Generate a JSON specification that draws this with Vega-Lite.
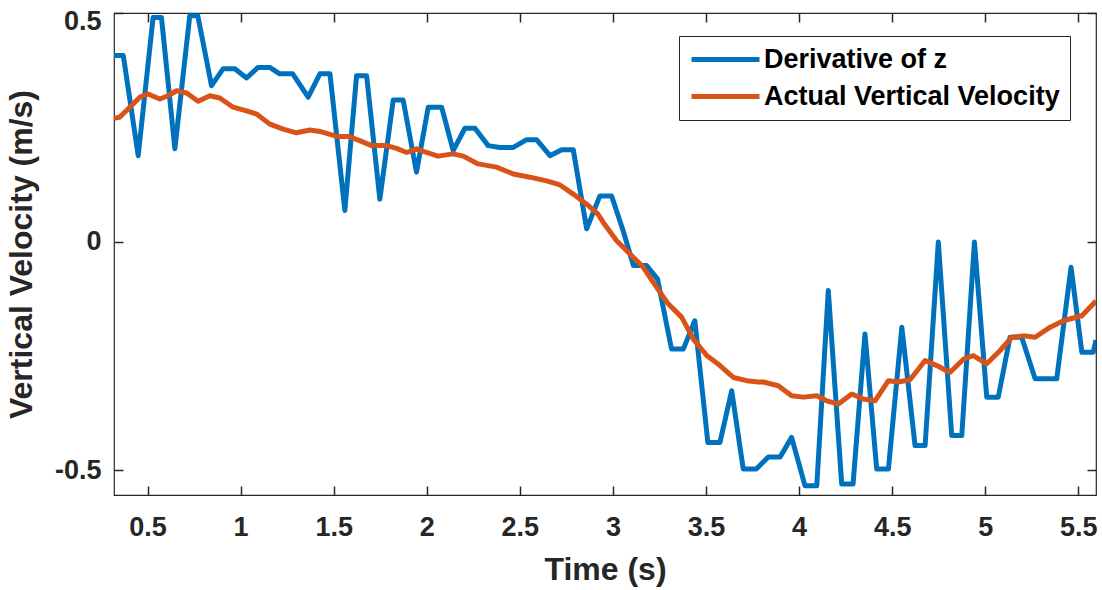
{
  "$schema": "https://vega.github.io/schema/vega-lite/v6.json",
  "width": 982,
  "height": 482,
  "autosize": {"type": "none"},
  "padding": {"left": 114, "top": 13, "right": 6, "bottom": 95},
  "background": "white",
  "config": {
    "font": "Liberation Sans",
    "view": {"stroke": "#262626", "strokeWidth": 1.2},
    "axis": {
      "grid": false,
      "domain": false,
      "ticks": true,
      "tickColor": "#262626",
      "tickWidth": 1.5,
      "labelColor": "#262626",
      "labelFont": "Liberation Sans",
      "labelFontWeight": "bold",
      "labelFontSize": 27,
      "titleColor": "#262626",
      "titleFont": "Liberation Sans",
      "titleFontWeight": "bold",
      "titleFontSize": 32
    },
    "legend": {
      "labelFont": "Liberation Sans",
      "labelFontWeight": "bold",
      "labelFontSize": 27,
      "labelColor": "#000000"
    }
  },
  "datasets": {
    "vel": [
      {"series": "Derivative of z", "t": 0.32, "v": 0.407},
      {"series": "Derivative of z", "t": 0.37, "v": 0.407},
      {"series": "Derivative of z", "t": 0.45, "v": 0.188},
      {"series": "Derivative of z", "t": 0.53, "v": 0.49},
      {"series": "Derivative of z", "t": 0.575, "v": 0.49},
      {"series": "Derivative of z", "t": 0.647, "v": 0.203},
      {"series": "Derivative of z", "t": 0.727, "v": 0.494},
      {"series": "Derivative of z", "t": 0.77, "v": 0.494},
      {"series": "Derivative of z", "t": 0.844, "v": 0.341},
      {"series": "Derivative of z", "t": 0.906, "v": 0.378},
      {"series": "Derivative of z", "t": 0.969, "v": 0.378},
      {"series": "Derivative of z", "t": 1.032, "v": 0.358},
      {"series": "Derivative of z", "t": 1.094, "v": 0.381},
      {"series": "Derivative of z", "t": 1.157, "v": 0.381},
      {"series": "Derivative of z", "t": 1.21, "v": 0.367},
      {"series": "Derivative of z", "t": 1.28, "v": 0.367},
      {"series": "Derivative of z", "t": 1.363, "v": 0.316},
      {"series": "Derivative of z", "t": 1.426, "v": 0.367},
      {"series": "Derivative of z", "t": 1.48, "v": 0.367},
      {"series": "Derivative of z", "t": 1.56, "v": 0.068},
      {"series": "Derivative of z", "t": 1.623, "v": 0.363},
      {"series": "Derivative of z", "t": 1.677, "v": 0.363},
      {"series": "Derivative of z", "t": 1.748, "v": 0.093},
      {"series": "Derivative of z", "t": 1.82, "v": 0.31},
      {"series": "Derivative of z", "t": 1.873, "v": 0.31},
      {"series": "Derivative of z", "t": 1.945, "v": 0.152},
      {"series": "Derivative of z", "t": 2.008, "v": 0.294},
      {"series": "Derivative of z", "t": 2.08, "v": 0.294},
      {"series": "Derivative of z", "t": 2.142, "v": 0.199},
      {"series": "Derivative of z", "t": 2.205, "v": 0.248},
      {"series": "Derivative of z", "t": 2.259, "v": 0.248},
      {"series": "Derivative of z", "t": 2.33, "v": 0.21},
      {"series": "Derivative of z", "t": 2.393, "v": 0.206},
      {"series": "Derivative of z", "t": 2.465, "v": 0.206},
      {"series": "Derivative of z", "t": 2.537, "v": 0.223},
      {"series": "Derivative of z", "t": 2.59, "v": 0.223},
      {"series": "Derivative of z", "t": 2.662, "v": 0.188},
      {"series": "Derivative of z", "t": 2.725, "v": 0.201},
      {"series": "Derivative of z", "t": 2.787, "v": 0.201},
      {"series": "Derivative of z", "t": 2.859, "v": 0.028},
      {"series": "Derivative of z", "t": 2.93, "v": 0.1},
      {"series": "Derivative of z", "t": 2.993, "v": 0.1},
      {"series": "Derivative of z", "t": 3.055, "v": 0.024},
      {"series": "Derivative of z", "t": 3.11, "v": -0.052},
      {"series": "Derivative of z", "t": 3.18, "v": -0.052},
      {"series": "Derivative of z", "t": 3.24, "v": -0.082},
      {"series": "Derivative of z", "t": 3.315, "v": -0.235},
      {"series": "Derivative of z", "t": 3.378, "v": -0.235},
      {"series": "Derivative of z", "t": 3.44, "v": -0.173},
      {"series": "Derivative of z", "t": 3.51, "v": -0.439},
      {"series": "Derivative of z", "t": 3.575, "v": -0.439},
      {"series": "Derivative of z", "t": 3.638, "v": -0.326},
      {"series": "Derivative of z", "t": 3.7, "v": -0.497},
      {"series": "Derivative of z", "t": 3.77, "v": -0.497},
      {"series": "Derivative of z", "t": 3.835, "v": -0.471},
      {"series": "Derivative of z", "t": 3.898, "v": -0.471},
      {"series": "Derivative of z", "t": 3.96, "v": -0.428},
      {"series": "Derivative of z", "t": 4.032, "v": -0.534},
      {"series": "Derivative of z", "t": 4.095, "v": -0.534},
      {"series": "Derivative of z", "t": 4.157, "v": -0.107},
      {"series": "Derivative of z", "t": 4.229, "v": -0.53},
      {"series": "Derivative of z", "t": 4.29, "v": -0.53},
      {"series": "Derivative of z", "t": 4.354, "v": -0.202},
      {"series": "Derivative of z", "t": 4.417, "v": -0.497},
      {"series": "Derivative of z", "t": 4.48, "v": -0.497},
      {"series": "Derivative of z", "t": 4.552, "v": -0.187},
      {"series": "Derivative of z", "t": 4.623, "v": -0.446},
      {"series": "Derivative of z", "t": 4.677, "v": -0.446},
      {"series": "Derivative of z", "t": 4.748, "v": -0.001},
      {"series": "Derivative of z", "t": 4.82, "v": -0.424},
      {"series": "Derivative of z", "t": 4.874, "v": -0.424},
      {"series": "Derivative of z", "t": 4.942, "v": -0.001},
      {"series": "Derivative of z", "t": 5.008, "v": -0.34},
      {"series": "Derivative of z", "t": 5.07, "v": -0.34},
      {"series": "Derivative of z", "t": 5.133, "v": -0.209},
      {"series": "Derivative of z", "t": 5.196, "v": -0.209},
      {"series": "Derivative of z", "t": 5.268, "v": -0.3},
      {"series": "Derivative of z", "t": 5.33, "v": -0.3},
      {"series": "Derivative of z", "t": 5.384, "v": -0.3},
      {"series": "Derivative of z", "t": 5.461, "v": -0.056},
      {"series": "Derivative of z", "t": 5.519, "v": -0.242},
      {"series": "Derivative of z", "t": 5.58, "v": -0.242},
      {"series": "Derivative of z", "t": 5.595, "v": -0.215},
      {"series": "Actual Vertical Velocity", "t": 0.32, "v": 0.27},
      {"series": "Actual Vertical Velocity", "t": 0.35, "v": 0.272},
      {"series": "Actual Vertical Velocity", "t": 0.405, "v": 0.294},
      {"series": "Actual Vertical Velocity", "t": 0.459, "v": 0.316},
      {"series": "Actual Vertical Velocity", "t": 0.503, "v": 0.323},
      {"series": "Actual Vertical Velocity", "t": 0.566, "v": 0.312},
      {"series": "Actual Vertical Velocity", "t": 0.61, "v": 0.319},
      {"series": "Actual Vertical Velocity", "t": 0.656, "v": 0.33},
      {"series": "Actual Vertical Velocity", "t": 0.71, "v": 0.325},
      {"series": "Actual Vertical Velocity", "t": 0.772, "v": 0.307},
      {"series": "Actual Vertical Velocity", "t": 0.835, "v": 0.319},
      {"series": "Actual Vertical Velocity", "t": 0.888, "v": 0.314},
      {"series": "Actual Vertical Velocity", "t": 0.96, "v": 0.294},
      {"series": "Actual Vertical Velocity", "t": 1.032, "v": 0.286},
      {"series": "Actual Vertical Velocity", "t": 1.086, "v": 0.279},
      {"series": "Actual Vertical Velocity", "t": 1.157, "v": 0.257},
      {"series": "Actual Vertical Velocity", "t": 1.229, "v": 0.246},
      {"series": "Actual Vertical Velocity", "t": 1.3, "v": 0.238},
      {"series": "Actual Vertical Velocity", "t": 1.372, "v": 0.244},
      {"series": "Actual Vertical Velocity", "t": 1.426, "v": 0.241},
      {"series": "Actual Vertical Velocity", "t": 1.516, "v": 0.23},
      {"series": "Actual Vertical Velocity", "t": 1.578, "v": 0.23},
      {"series": "Actual Vertical Velocity", "t": 1.64, "v": 0.221},
      {"series": "Actual Vertical Velocity", "t": 1.704, "v": 0.21},
      {"series": "Actual Vertical Velocity", "t": 1.784, "v": 0.21},
      {"series": "Actual Vertical Velocity", "t": 1.838, "v": 0.204},
      {"series": "Actual Vertical Velocity", "t": 1.892, "v": 0.195},
      {"series": "Actual Vertical Velocity", "t": 1.945, "v": 0.203},
      {"series": "Actual Vertical Velocity", "t": 1.999, "v": 0.195},
      {"series": "Actual Vertical Velocity", "t": 2.06, "v": 0.187},
      {"series": "Actual Vertical Velocity", "t": 2.142, "v": 0.192},
      {"series": "Actual Vertical Velocity", "t": 2.196, "v": 0.187},
      {"series": "Actual Vertical Velocity", "t": 2.276, "v": 0.17},
      {"series": "Actual Vertical Velocity", "t": 2.375, "v": 0.163},
      {"series": "Actual Vertical Velocity", "t": 2.465, "v": 0.148},
      {"series": "Actual Vertical Velocity", "t": 2.554, "v": 0.141},
      {"series": "Actual Vertical Velocity", "t": 2.644, "v": 0.133},
      {"series": "Actual Vertical Velocity", "t": 2.716, "v": 0.124},
      {"series": "Actual Vertical Velocity", "t": 2.787, "v": 0.104},
      {"series": "Actual Vertical Velocity", "t": 2.859, "v": 0.082},
      {"series": "Actual Vertical Velocity", "t": 2.92, "v": 0.06},
      {"series": "Actual Vertical Velocity", "t": 2.948, "v": 0.042},
      {"series": "Actual Vertical Velocity", "t": 3.02, "v": 0.002},
      {"series": "Actual Vertical Velocity", "t": 3.092, "v": -0.027},
      {"series": "Actual Vertical Velocity", "t": 3.163, "v": -0.056},
      {"series": "Actual Vertical Velocity", "t": 3.235, "v": -0.1},
      {"series": "Actual Vertical Velocity", "t": 3.297, "v": -0.136},
      {"series": "Actual Vertical Velocity", "t": 3.369, "v": -0.165},
      {"series": "Actual Vertical Velocity", "t": 3.432, "v": -0.213},
      {"series": "Actual Vertical Velocity", "t": 3.504, "v": -0.249},
      {"series": "Actual Vertical Velocity", "t": 3.575, "v": -0.271},
      {"series": "Actual Vertical Velocity", "t": 3.647, "v": -0.297},
      {"series": "Actual Vertical Velocity", "t": 3.719, "v": -0.304},
      {"series": "Actual Vertical Velocity", "t": 3.78, "v": -0.307},
      {"series": "Actual Vertical Velocity", "t": 3.808, "v": -0.307},
      {"series": "Actual Vertical Velocity", "t": 3.888, "v": -0.315},
      {"series": "Actual Vertical Velocity", "t": 3.96, "v": -0.337},
      {"series": "Actual Vertical Velocity", "t": 4.023, "v": -0.34},
      {"series": "Actual Vertical Velocity", "t": 4.095, "v": -0.337},
      {"series": "Actual Vertical Velocity", "t": 4.148, "v": -0.348},
      {"series": "Actual Vertical Velocity", "t": 4.211, "v": -0.355},
      {"series": "Actual Vertical Velocity", "t": 4.283, "v": -0.333},
      {"series": "Actual Vertical Velocity", "t": 4.345, "v": -0.344},
      {"series": "Actual Vertical Velocity", "t": 4.408, "v": -0.348},
      {"series": "Actual Vertical Velocity", "t": 4.48, "v": -0.304},
      {"series": "Actual Vertical Velocity", "t": 4.533, "v": -0.307},
      {"series": "Actual Vertical Velocity", "t": 4.596, "v": -0.302},
      {"series": "Actual Vertical Velocity", "t": 4.677, "v": -0.26},
      {"series": "Actual Vertical Velocity", "t": 4.74, "v": -0.271},
      {"series": "Actual Vertical Velocity", "t": 4.81, "v": -0.286},
      {"series": "Actual Vertical Velocity", "t": 4.883, "v": -0.257},
      {"series": "Actual Vertical Velocity", "t": 4.936, "v": -0.249},
      {"series": "Actual Vertical Velocity", "t": 5.008, "v": -0.267},
      {"series": "Actual Vertical Velocity", "t": 5.08, "v": -0.238},
      {"series": "Actual Vertical Velocity", "t": 5.143, "v": -0.209},
      {"series": "Actual Vertical Velocity", "t": 5.205, "v": -0.206},
      {"series": "Actual Vertical Velocity", "t": 5.268, "v": -0.209},
      {"series": "Actual Vertical Velocity", "t": 5.349, "v": -0.187},
      {"series": "Actual Vertical Velocity", "t": 5.42, "v": -0.173},
      {"series": "Actual Vertical Velocity", "t": 5.519, "v": -0.162},
      {"series": "Actual Vertical Velocity", "t": 5.595, "v": -0.13}
    ]
  },
  "data": {"name": "vel"},
  "layer": [
    {
      "transform": [{"filter": "datum.series === 'Derivative of z'"}],
      "mark": {"type": "line", "strokeWidth": 5, "strokeJoin": "round", "clip": true},
      "encoding": {
        "x": {
          "field": "t", "type": "quantitative",
          "scale": {"domain": [0.32, 5.595], "nice": false, "zero": false},
          "axis": {"title": "Time (s)", "values": [0.5, 1, 1.5, 2, 2.5, 3, 3.5, 4, 4.5, 5, 5.5], "labelExpr": "replace(format(datum.value, '~g'), '\u2212', '-')", "tickSize": -9, "labelPadding": 28, "titlePadding": 14, "labelFlush": false}
        },
        "y": {
          "field": "v", "type": "quantitative",
          "scale": {"domain": [-0.554, 0.5], "nice": false, "zero": false},
          "axis": {"title": "Vertical Velocity (m/s)", "values": [-0.5, 0, 0.5], "labelExpr": "replace(format(datum.value, '~g'), '\u2212', '-')", "tickSize": -9, "labelPadding": 22, "titlePadding": 16, "labelFlush": true, "labelFlushOffset": 5}
        },
        "color": {
          "field": "series", "type": "nominal",
          "scale": {"domain": ["Derivative of z", "Actual Vertical Velocity"], "range": ["#0072BD", "#D95319"]},
          "legend": {
            "title": null,
            "orient": "none",
            "legendX": 565,
            "legendY": 23,
            "symbolType": "stroke",
            "symbolSize": 4624,
            "symbolStrokeWidth": 5,
            "clipHeight": 27,
            "labelOffset": 2,
            "padding": 10,
            "rowPadding": 9,
            "strokeColor": "#262626",
            "fillColor": "white",
            "labelLimit": 400
          }
        }
      }
    },
    {
      "transform": [{"filter": "datum.series === 'Actual Vertical Velocity'"}],
      "mark": {"type": "line", "strokeWidth": 5, "strokeJoin": "round", "clip": true},
      "encoding": {
        "x": {"field": "t", "type": "quantitative", "axis": null},
        "y": {"field": "v", "type": "quantitative", "axis": null},
        "color": {"field": "series", "type": "nominal"}
      }
    },
    {
      "mark": {"type": "line", "strokeOpacity": 0, "clip": true},
      "encoding": {
        "x": {"field": "t", "type": "quantitative", "axis": {"orient": "top", "labels": false, "title": null, "tickSize": -9, "values": [0.5, 1, 1.5, 2, 2.5, 3, 3.5, 4, 4.5, 5, 5.5]}},
        "y": {"field": "v", "type": "quantitative", "axis": {"orient": "right", "labels": false, "title": null, "tickSize": -9, "values": [-0.5, 0, 0.5]}},
        "detail": {"field": "series"}
      }
    }
  ],
  "resolve": {"axis": {"x": "independent", "y": "independent"}}
}
